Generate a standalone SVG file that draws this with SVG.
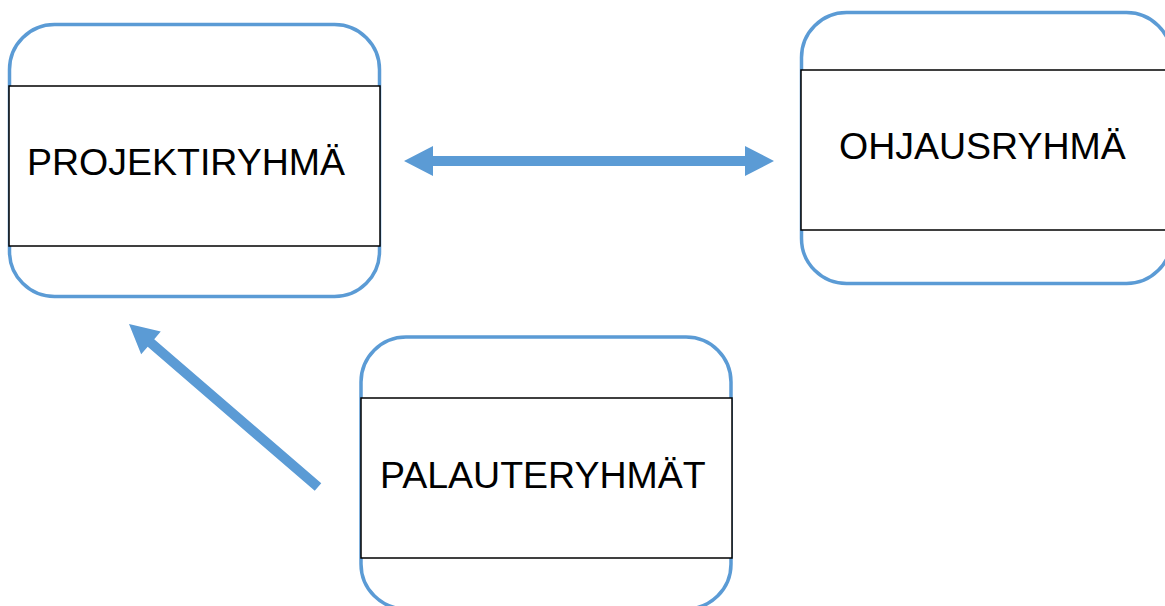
<svg xmlns="http://www.w3.org/2000/svg" width="1165" height="606" viewBox="0 0 1165 606">
<style>
.outer{fill:#fff;stroke:#5B9BD5;stroke-width:3.5}
.inner{fill:#fff;stroke:#000;stroke-width:1.5}
.lbl{font-family:"Liberation Sans",Arial,sans-serif;font-size:37.5px;fill:#000}
.arr{fill:#5B9BD5}
</style>
<rect width="1165" height="606" fill="#fff"/>
<g id="projektiryhma">
<rect class="outer" x="9.5" y="24.5" width="370" height="272" rx="45"/>
<rect class="inner" x="9" y="86" width="371" height="160"/>
<text class="lbl" x="27" y="175">PROJEKTIRYHMÄ</text>
</g>
<g id="ohjausryhma">
<rect class="outer" x="801.5" y="12.5" width="370" height="271" rx="45"/>
<rect class="inner" x="801" y="70" width="371" height="160"/>
<text class="lbl" x="839" y="159">OHJAUSRYHMÄ</text>
</g>
<g id="palauteryhmat">
<rect class="outer" x="361" y="337" width="370" height="272" rx="45"/>
<rect class="inner" x="361" y="398" width="371" height="160"/>
<text class="lbl" x="380" y="488">PALAUTERYHMÄT</text>
</g>
<g id="connectors">
<polygon class="arr" points="404,161 433,146 433,156 745,156 745,146 774,161 745,176 745,166 433,166 433,176"/>
<polygon class="arr" transform="translate(129,324) rotate(220.78)" points="0,0 -29,-15 -29,-5 -249.6,-5 -249.6,5 -29,5 -29,15"/>
</g>
</svg>
